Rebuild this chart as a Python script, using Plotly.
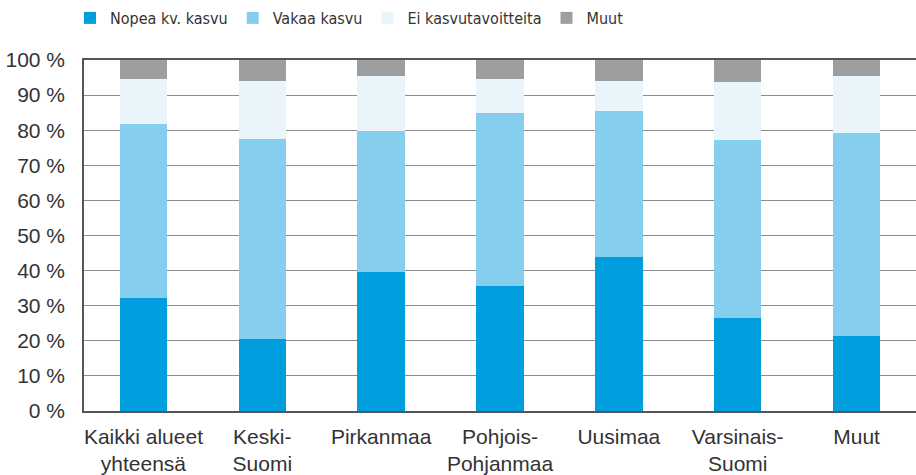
import plotly.graph_objects as go

categories = ["Kaikki alueet<br>yhteensä", "Keski-<br>Suomi", "Pirkanmaa", "Pohjois-<br>Pohjanmaa",
              "Uusimaa", "Varsinais-<br>Suomi", "Muut"]
nopea = [32.2, 20.5, 39.6, 35.6, 43.9, 26.5, 21.4]
vakaa = [49.6, 57.0, 40.3, 49.3, 41.6, 50.7, 57.8]
ei_kasvu = [12.8, 16.5, 15.5, 9.7, 8.5, 16.5, 16.2]
muut = [5.4, 6.0, 4.6, 5.4, 6.0, 6.3, 4.6]
y_ticks = [0, 10, 20, 30, 40, 50, 60, 70, 80, 90, 100]
y_tick_labels = ["0 %", "10 %", "20 %", "30 %", "40 %", "50 %", "60 %", "70 %", "80 %", "90 %", "100 %"]

series = [
    ("Nopea kv. kasvu", nopea, "#009ddf"),
    ("Vakaa kasvu", vakaa, "#86ceee"),
    ("Ei kasvutavoitteita", ei_kasvu, "#e9f4fb"),
    ("Muut", muut, "#9d9ea0"),
]

fig = go.Figure()
for name, vals, col in series:
    fig.add_trace(go.Bar(x=categories, y=vals, name=name, marker_color=col,
                         marker_line_width=0, width=0.4))

font_fam = "Liberation Sans, Arial, sans-serif"
fig.update_layout(
    barmode="stack",
    width=916, height=475,
    margin=dict(l=84, r=0, t=60, b=64, autoexpand=False),
    plot_bgcolor="white", paper_bgcolor="white",
    font=dict(family=font_fam, size=21, color="#333333"),
    showlegend=True,
    legend=dict(orientation="h", x=70 / 916, xanchor="left", xref="container",
                y=1.1197, yanchor="middle", yref="paper",
                font=dict(size=16, color="#333333",
                          family="DejaVu Sans Condensed, Liberation Sans, sans-serif"),
                traceorder="normal", itemwidth=30, bgcolor="rgba(0,0,0,0)"),
)
fig.update_yaxes(range=[0, 100], tickmode="array", tickvals=y_ticks, ticktext=y_tick_labels,
                 showgrid=True, gridcolor="#8c8c8c", gridwidth=1,
                 showline=True, linecolor="#555555", linewidth=1.5, automargin=False,
                 ticks="", zeroline=False, tickfont=dict(size=21), ticklabelstandoff=13)
fig.update_xaxes(showline=True, mirror=True, linecolor="#555555", linewidth=1.5, automargin=False,
                 ticks="", tickfont=dict(size=21), ticklabelstandoff=6)

fig.write_html("out.html", config={"displayModeBar": False},
               post_script="document.body.style.margin='0';document.body.style.padding='0';")
